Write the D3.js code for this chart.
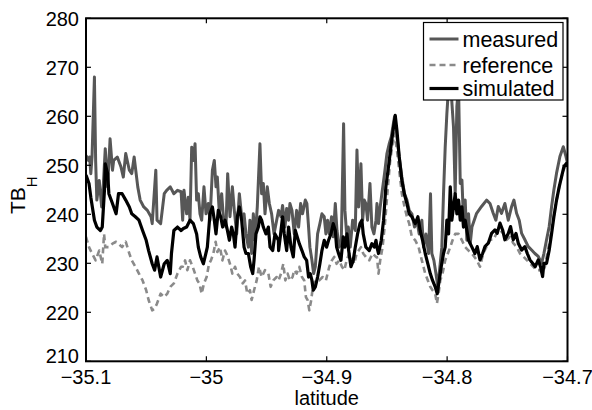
<!DOCTYPE html>
<html>
<head>
<meta charset="utf-8">
<script src="https://cdn.jsdelivr.net/npm/d3@7"></script>
<style>
  body { margin: 0; background: #fff; }
  svg text { font-family: "Liberation Sans", Arial, Helvetica, sans-serif; fill: #000; }
</style>
</head>
<body>
<svg id="chart"></svg>
<script>
// [latitude, TB_H] pairs
var measured = [
  [-35.100,252.0],[-35.098,251.0],[-35.097,251.7],[-35.096,248.3],[-35.095,251.7],[-35.093,268.0],[-35.092,251.0],
  [-35.091,242.9],[-35.089,246.9],[-35.087,241.5],[-35.086,244.2],[-35.084,253.4],[-35.082,245.6],[-35.080,255.4],
  [-35.078,249.0],[-35.077,251.0],[-35.074,251.7],[-35.071,249.7],[-35.069,247.6],[-35.067,252.4],[-35.064,249.0],
  [-35.062,248.3],[-35.060,251.7],[-35.057,245.6],[-35.055,242.9],[-35.052,241.5],[-35.049,240.8],[-35.046,239.5],
  [-35.045,238.1],[-35.042,249.0],[-35.041,238.8],[-35.038,238.1],[-35.035,244.2],[-35.033,244.9],[-35.030,245.6],
  [-35.027,244.2],[-35.024,244.9],[-35.021,244.6],
  [-35.0197,238.8],[-35.0186,244.9],[-35.0164,240.1],[-35.0150,243.5],[-35.0136,238.8],[-35.0122,253.7],[-35.0108,251.0],
  [-35.0094,254.4],[-35.0081,242.9],[-35.0067,244.2],[-35.0053,240.1],[-35.0039,238.8],[-35.0020,245.6],[-35.0003,240.1],
  [-34.9984,242.2],[-34.9970,238.8],[-34.9950,249.0],[-34.9934,251.0],[-34.9920,245.6],[-34.9909,247.6],[-34.9892,240.1],
  [-34.9873,244.2],[-34.9859,239.5],[-34.9837,237.4],[-34.9823,248.3],[-34.9804,239.5],[-34.9784,245.6],[-34.9768,240.8],
  [-34.9748,236.0],[-34.9726,244.2],[-34.9707,239.5],[-34.9687,240.1],[-34.9671,236.0],[-34.9651,233.3],[-34.9638,238.8],
  [-34.9624,232.0],[-34.9610,240.1],[-34.9596,234.7],[-34.9577,241.5],[-34.9555,254.4],[-34.9541,244.2],[-34.9527,246.3],
  [-34.9513,240.1],[-34.9494,245.6],[-34.9477,242.2],[-34.9458,240.1],[-34.9438,236.0],[-34.9416,238.8],
  [-34.9400,240.8],[-34.9380,239.5],[-34.9367,241.8],[-34.9347,237.4],[-34.9333,241.2],[-34.9317,238.8],[-34.9306,242.2],
  [-34.9289,240.8],[-34.9270,236.0],[-34.9250,240.8],[-34.9234,237.4],[-34.9217,242.2],[-34.9201,240.1],[-34.9178,242.9],
  [-34.9165,242.2],[-34.9153,238.1],[-34.9140,233.3],[-34.9123,230.6],[-34.9109,227.9],[-34.9095,229.3],[-34.9076,236.0],
  [-34.9057,238.1],[-34.9040,240.1],[-34.9021,239.5],[-34.9007,236.0],[-34.8993,238.8],[-34.8979,236.0],[-34.8960,239.5],
  [-34.8946,235.4],[-34.8929,242.2],[-34.8915,236.7],[-34.8896,233.3],[-34.8879,234.7],[-34.8860,258.5],[-34.8849,240.8],
  [-34.8835,236.0],[-34.8821,237.4],[-34.8805,233.3],[-34.8785,238.8],[-34.8763,236.7],[-34.8749,253.1],[-34.8735,241.5],
  [-34.8716,250.3],[-34.8702,238.8],[-34.8688,242.9],[-34.8675,242.2],[-34.8661,238.8],[-34.8641,246.3],[-34.8625,237.4],
  [-34.8608,236.0],[-34.8591,238.8],
  [-34.8583,242.2],[-34.8570,238.1],[-34.8556,241.5],[-34.8542,244.2],[-34.8520,248.3],[-34.8500,252.4],[-34.8481,254.4],
  [-34.8464,255.8],[-34.8451,257.8],[-34.8437,259.9],[-34.8417,255.8],[-34.8398,251.7],[-34.8376,247.6],[-34.8354,244.2],
  [-34.8334,242.9],[-34.8315,240.8],[-34.8293,240.1],[-34.8271,237.4],[-34.8251,238.8],[-34.8232,236.0],[-34.8210,238.8],
  [-34.8196,233.3],[-34.8176,236.0],[-34.8154,232.0],[-34.8138,244.2],[-34.8127,232.0],[-34.8110,230.6],[-34.8093,227.9],
  [-34.8077,225.2],[-34.8060,229.3],[-34.8044,233.3],[-34.8030,244.2],[-34.8016,253.7],[-34.8002,260.6],[-34.7988,266.0],
  [-34.7974,268.5],[-34.7961,263.0],[-34.7947,257.8],[-34.7933,244.2],[-34.7919,262.0],[-34.7905,266.0],[-34.7891,246.3],
  [-34.7877,247.0],[-34.7864,238.8],[-34.7850,242.9],[-34.7836,234.7],[-34.7822,240.1],[-34.7808,234.0],[-34.7794,237.4],
  [-34.7755,240.2],[-34.7714,241.6],[-34.7672,242.9],[-34.7644,242.2],[-34.7617,240.2],[-34.7595,238.8],[-34.7575,241.6],
  [-34.7548,240.2],[-34.7520,242.2],[-34.7492,238.8],[-34.7464,241.6],[-34.7445,242.9],[-34.7423,240.2],[-34.7401,238.8],
  [-34.7381,236.1],[-34.7354,234.8],[-34.7326,233.4],[-34.7298,232.7],[-34.7271,232.0],[-34.7243,231.4],[-34.7215,230.0],
  [-34.7196,232.0],[-34.7174,234.8],[-34.7152,237.5],[-34.7132,241.6],[-34.7113,245.0],[-34.7091,248.4],[-34.7063,251.8],
  [-34.7035,253.8],[-34.7013,251.8],[-34.7000,250.4]
];

var reference = [
  [-35.100,235.4],[-35.0975,233.3],[-35.095,232.0],[-35.092,230.6],[-35.089,232.6],[-35.0865,229.9],[-35.085,236.0],
  [-35.084,233.3],[-35.081,233.3],[-35.078,234.0],[-35.075,234.4],[-35.073,234.0],[-35.070,233.3],[-35.067,234.4],
  [-35.064,232.0],[-35.062,230.6],[-35.059,229.3],[-35.056,227.9],[-35.053,226.5],[-35.050,224.5],[-35.048,222.5],
  [-35.045,220.4],[-35.043,220.7],[-35.041,221.8],[-35.038,223.8],[-35.035,223.1],[-35.0325,223.8],[-35.030,225.2],
  [-35.027,225.9],[-35.024,227.9],[-35.021,229.3],
  [-35.0197,229.3],[-35.0177,230.6],[-35.0158,228.6],[-35.0136,230.6],[-35.0114,229.3],[-35.0094,227.9],[-35.0075,226.5],
  [-35.0058,225.9],[-35.0039,223.8],[-35.0020,225.9],[-34.9998,227.2],[-34.9978,229.9],[-34.9962,230.6],[-34.9942,232.0],
  [-34.9923,234.4],[-34.9909,232.3],[-34.9887,233.3],[-34.9867,230.6],[-34.9845,232.6],[-34.9826,231.6],[-34.9804,229.9],
  [-34.9784,227.9],[-34.9762,229.3],[-34.9743,227.9],[-34.9721,227.2],[-34.9698,225.9],[-34.9679,226.5],[-34.9660,223.8],
  [-34.9638,224.5],[-34.9624,222.5],[-34.9604,224.5],[-34.9582,226.5],[-34.9563,229.3],[-34.9541,227.2],[-34.9513,228.6],
  [-34.9485,227.9],[-34.9466,225.2],[-34.9444,226.5],[-34.9416,227.2],
  [-34.9400,226.5],[-34.9380,227.9],[-34.9361,229.9],[-34.9344,226.5],[-34.9325,227.9],[-34.9306,226.5],[-34.9284,227.2],
  [-34.9270,228.6],[-34.9250,227.9],[-34.9228,229.3],[-34.9206,227.2],[-34.9187,226.5],[-34.9173,223.1],[-34.9159,222.5],
  [-34.9145,220.4],[-34.9129,222.5],[-34.9112,225.9],[-34.9090,226.5],[-34.9062,226.5],[-34.9034,227.2],[-34.9007,226.5],
  [-34.8979,229.3],[-34.8957,230.6],[-34.8938,231.3],[-34.8918,229.9],[-34.8896,230.6],[-34.8874,229.3],[-34.8854,228.6],
  [-34.8835,230.6],[-34.8813,232.0],[-34.8791,231.3],[-34.8771,229.9],[-34.8752,232.0],[-34.8735,232.6],[-34.8716,233.3],
  [-34.8697,232.0],[-34.8675,231.3],[-34.8647,230.6],[-34.8619,232.0],[-34.8591,231.3],
  [-34.8583,231.3],[-34.8570,227.9],[-34.8556,230.6],[-34.8536,233.3],[-34.8514,238.8],[-34.8492,245.6],[-34.8473,251.0],
  [-34.8453,254.4],[-34.8437,256.5],[-34.8417,253.1],[-34.8398,249.0],[-34.8376,244.2],[-34.8354,241.5],[-34.8334,239.5],
  [-34.8315,238.1],[-34.8293,235.4],[-34.8265,234.7],[-34.8237,233.3],[-34.8210,230.6],[-34.8182,227.9],[-34.8160,226.5],
  [-34.8140,225.2],[-34.8121,224.5],[-34.8099,223.8],[-34.8085,221.8],[-34.8071,223.8],[-34.8057,226.5],[-34.8038,227.9],
  [-34.8016,230.6],[-34.7994,232.0],[-34.7974,233.3],[-34.7955,234.7],[-34.7933,236.0],[-34.7905,236.0],[-34.7877,234.7],
  [-34.7850,233.3],[-34.7822,232.6],[-34.7794,232.0],
  [-34.7755,230.7],[-34.7727,229.3],[-34.7700,232.0],[-34.7672,233.4],[-34.7644,234.8],[-34.7617,234.8],[-34.7589,236.1],
  [-34.7561,236.8],[-34.7534,236.1],[-34.7506,234.8],[-34.7478,235.4],[-34.7451,234.1],[-34.7423,233.4],[-34.7395,232.0],
  [-34.7368,231.4],[-34.7340,230.7],[-34.7312,230.0],[-34.7285,229.3],[-34.7257,228.6],[-34.7229,228.6],[-34.7207,228.0],
  [-34.7188,229.3],[-34.7168,232.0],[-34.7146,234.8],[-34.7124,238.2],[-34.7105,240.9],[-34.7085,243.6],[-34.7063,246.3],
  [-34.7041,248.4],[-34.7022,249.7],[-34.7008,250.4],[-34.7000,249.7]
];

var simulated = [
  [-35.100,248.0],[-35.0975,246.3],[-35.096,243.5],[-35.093,238.8],[-35.091,237.4],[-35.088,236.7],[-35.0865,237.4],
  [-35.0845,245.6],[-35.084,250.3],[-35.082,248.3],[-35.081,244.2],[-35.078,242.2],[-35.075,240.1],[-35.073,244.2],
  [-35.070,244.2],[-35.067,242.9],[-35.064,241.5],[-35.062,240.1],[-35.059,239.5],[-35.056,238.8],[-35.053,236.7],
  [-35.050,234.7],[-35.048,232.6],[-35.045,229.9],[-35.043,228.6],[-35.041,231.3],[-35.038,227.2],[-35.035,229.9],
  [-35.0325,230.6],[-35.030,227.9],[-35.029,232.0],[-35.027,236.7],[-35.024,237.4],[-35.021,236.7],
  [-35.0191,237.1],[-35.0164,237.4],[-35.0136,238.8],[-35.0108,238.1],[-35.0081,236.0],[-35.0067,233.3],[-35.0047,231.3],
  [-35.0025,229.9],[-35.0011,231.3],[-34.9992,233.3],[-34.9970,240.1],[-34.9950,241.5],[-34.9934,238.8],[-34.9920,236.0],
  [-34.9901,240.8],[-34.9881,239.5],[-34.9865,237.4],[-34.9845,238.8],[-34.9831,237.4],[-34.9809,234.7],[-34.9790,237.4],
  [-34.9776,236.0],[-34.9762,233.3],[-34.9743,239.5],[-34.9726,241.5],[-34.9707,238.8],[-34.9687,233.3],[-34.9671,232.0],
  [-34.9651,232.0],[-34.9632,229.3],[-34.9615,227.9],[-34.9604,230.6],[-34.9588,236.0],[-34.9568,237.4],[-34.9555,239.5],
  [-34.9541,238.8],[-34.9527,237.4],[-34.9505,236.0],[-34.9485,237.4],[-34.9471,233.3],[-34.9449,232.6],[-34.9430,236.0],
  [-34.9402,234.7],
  [-34.9400,232.6],[-34.9386,235.4],[-34.9367,239.5],[-34.9353,236.0],[-34.9333,232.6],[-34.9317,237.4],[-34.9297,233.3],
  [-34.9278,231.3],[-34.9261,236.7],[-34.9245,235.4],[-34.9228,234.0],[-34.9206,232.6],[-34.9187,231.3],[-34.9167,230.6],
  [-34.9151,227.2],[-34.9137,227.9],[-34.9123,226.5],[-34.9112,224.5],[-34.9095,225.2],[-34.9076,227.2],[-34.9057,229.9],
  [-34.9040,232.6],[-34.9021,234.7],[-34.9001,233.3],[-34.8985,234.7],[-34.8965,236.0],[-34.8946,238.1],[-34.8929,236.7],
  [-34.8918,233.3],[-34.8902,232.0],[-34.8882,230.6],[-34.8863,235.4],[-34.8849,233.3],[-34.8832,236.0],[-34.8818,232.6],
  [-34.8799,229.3],[-34.8780,230.6],[-34.8763,233.3],[-34.8744,236.0],[-34.8724,238.1],[-34.8708,238.8],[-34.8697,236.0],
  [-34.8675,233.3],[-34.8647,232.6],[-34.8625,234.0],[-34.8605,233.3],[-34.8591,234.7],
  [-34.8583,233.3],[-34.8570,232.0],[-34.8547,234.7],[-34.8528,238.8],[-34.8509,245.6],[-34.8487,249.7],[-34.8464,254.4],
  [-34.8445,257.8],[-34.8431,260.2],[-34.8417,257.1],[-34.8398,251.7],[-34.8376,246.9],[-34.8356,244.2],[-34.8334,242.2],
  [-34.8315,240.1],[-34.8293,239.5],[-34.8265,238.1],[-34.8243,239.5],[-34.8224,236.7],[-34.8204,234.7],[-34.8182,232.0],
  [-34.8160,229.9],[-34.8140,227.9],[-34.8121,226.5],[-34.8099,225.2],[-34.8082,223.8],[-34.8066,226.5],[-34.8049,229.3],
  [-34.8030,232.0],[-34.8016,233.3],[-34.8002,238.8],[-34.7988,236.0],[-34.7974,245.6],[-34.7961,238.8],[-34.7947,241.5],
  [-34.7933,244.2],[-34.7919,240.1],[-34.7905,242.9],[-34.7891,238.8],[-34.7877,241.5],[-34.7864,237.4],[-34.7850,238.8],
  [-34.7822,234.7],[-34.7794,233.3],
  [-34.7769,232.0],[-34.7750,233.4],[-34.7727,230.7],[-34.7705,232.0],[-34.7686,233.4],[-34.7658,234.1],[-34.7631,236.1],
  [-34.7603,236.8],[-34.7584,236.1],[-34.7561,238.2],[-34.7539,236.8],[-34.7520,234.8],[-34.7492,236.1],[-34.7473,237.5],
  [-34.7451,234.8],[-34.7428,236.1],[-34.7409,234.1],[-34.7381,232.7],[-34.7354,233.4],[-34.7334,232.0],[-34.7312,230.7],
  [-34.7290,230.0],[-34.7268,229.3],[-34.7243,230.7],[-34.7224,229.3],[-34.7207,227.3],[-34.7196,230.0],[-34.7174,230.0],
  [-34.7152,232.7],[-34.7132,236.1],[-34.7113,239.5],[-34.7091,242.9],[-34.7069,245.6],[-34.7049,247.7],[-34.7030,249.7],
  [-34.7008,250.4],[-34.7000,249.7]
];

var xTicks = [-35.1, -35, -34.9, -34.8, -34.7];
var yTicks = [210, 220, 230, 240, 250, 260, 270, 280];
var seriesNames = ["measured", "reference", "simulated"];

var width = 592, height = 410;
var margin = {left: 86, right: 24.5, top: 18.3, bottom: 48.7};

var svg = d3.select("#chart")
  .attr("width", width)
  .attr("height", height);

var x = d3.scaleLinear()
  .domain([-35.1, -34.7])
  .range([margin.left, width - margin.right]);
var y = d3.scaleLinear()
  .domain([210, 280])
  .range([height - margin.bottom, margin.top]);

var styles = {
  measured: {stroke: "#575757", width: 3, dash: null},
  reference: {stroke: "#8a8a8a", width: 2.6, dash: "6,4"},
  simulated: {stroke: "#000000", width: 3.2, dash: null}
};
var data = {measured: measured, reference: reference, simulated: simulated};

svg.append("clipPath")
  .attr("id", "plot-clip")
  .append("rect")
  .attr("x", x(-35.1))
  .attr("y", y(280))
  .attr("width", x(-34.7) - x(-35.1))
  .attr("height", y(210) - y(280));

var line = d3.line()
  .x(function (d) { return x(d[0]); })
  .y(function (d) { return y(d[1]); });

var lines = svg.append("g").attr("clip-path", "url(#plot-clip)");
seriesNames.forEach(function (name) {
  lines.append("path")
    .datum(data[name])
    .attr("fill", "none")
    .attr("stroke", styles[name].stroke)
    .attr("stroke-width", styles[name].width)
    .attr("stroke-linejoin", "round")
    .attr("stroke-dasharray", styles[name].dash)
    .attr("d", line);
});

// ticks on all four sides, pointing inwards
var tickLen = 5;
var axisG = svg.append("g").attr("stroke", "#000").attr("stroke-width", 1.2);
xTicks.forEach(function (t) {
  axisG.append("line").attr("x1", x(t)).attr("x2", x(t)).attr("y1", y(210)).attr("y2", y(210) - tickLen);
  axisG.append("line").attr("x1", x(t)).attr("x2", x(t)).attr("y1", y(280)).attr("y2", y(280) + tickLen);
});
yTicks.forEach(function (t) {
  axisG.append("line").attr("x1", x(-35.1)).attr("x2", x(-35.1) + tickLen).attr("y1", y(t)).attr("y2", y(t));
  axisG.append("line").attr("x1", x(-34.7)).attr("x2", x(-34.7) - tickLen).attr("y1", y(t)).attr("y2", y(t));
});

svg.append("rect")
  .attr("x", x(-35.1))
  .attr("y", y(280))
  .attr("width", x(-34.7) - x(-35.1))
  .attr("height", y(210) - y(280))
  .attr("fill", "none")
  .attr("stroke", "#000")
  .attr("stroke-width", 2);

function fmtLat(d) {
  var s = String(Math.abs(+d.toFixed(1)));
  return (d < 0 ? "\u2212" : "") + s;
}

svg.append("g").selectAll("text")
  .data(xTicks)
  .enter().append("text")
  .attr("x", function (d) { return x(d); })
  .attr("y", 384)
  .attr("text-anchor", "middle")
  .attr("font-size", 20)
  .text(fmtLat);

svg.append("g").selectAll("text")
  .data(yTicks)
  .enter().append("text")
  .attr("x", x(-35.1) - 7)
  .attr("y", function (d) { return y(d); })
  .attr("dy", function (d) { return d === 210 ? "0.08em" : "0.36em"; })
  .attr("text-anchor", "end")
  .attr("font-size", 20)
  .text(function (d) { return d; });

svg.append("text")
  .attr("x", (x(-35.1) + x(-34.7)) / 2)
  .attr("y", 405)
  .attr("text-anchor", "middle")
  .attr("font-size", 20)
  .text("latitude");

var ylab = svg.append("text")
  .attr("transform", "translate(25,214) rotate(-90)")
  .attr("font-size", 21);
ylab.append("tspan").text("TB");
ylab.append("tspan").attr("font-size", 15).attr("dy", 12).text("H");

// legend
var legX = 423.5, legY = 22.5, legW = 139.5, legH = 77.5;
var legend = svg.append("g");
legend.append("rect")
  .attr("x", legX).attr("y", legY)
  .attr("width", legW).attr("height", legH)
  .attr("fill", "#fff")
  .attr("stroke", "#000")
  .attr("stroke-width", 1.2);
var legRows = [39, 65, 88.5];
seriesNames.forEach(function (name, i) {
  legend.append("line")
    .attr("x1", legX + 6).attr("x2", legX + 35)
    .attr("y1", legRows[i]).attr("y2", legRows[i])
    .attr("stroke", styles[name].stroke)
    .attr("stroke-width", styles[name].width)
    .attr("stroke-dasharray", styles[name].dash);
  legend.append("text")
    .attr("x", legX + 39)
    .attr("y", legRows[i] + 7.5)
    .attr("font-size", 21.5)
    .text(name);
});
</script>
</body>
</html>
